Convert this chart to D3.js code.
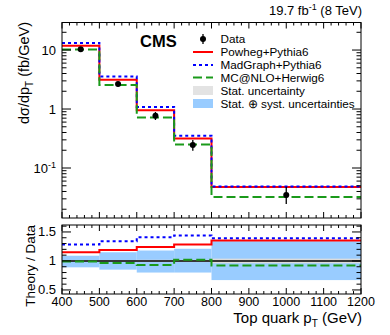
<!DOCTYPE html>
<html>
<head>
<meta charset="utf-8">
<script src="https://cdn.jsdelivr.net/npm/d3@7"></script>
<style>
  body { margin: 0; background: #fff; }
  svg { font-family: "Liberation Sans", Arial, sans-serif; }
</style>
</head>
<body>
<svg width="390" height="335"></svg>
<script>
// bin edges in GeV
const binEdges = [400, 500, 600, 700, 800, 1200];
// measured cross section (fb/GeV) and relative error on the data points
const dataVals = [10.3, 2.65, 0.77, 0.245, 0.035];
const dataErrUp = [0.05, 0.09, 0.16, 0.22, 0.37];
const dataErrDn = [0.05, 0.09, 0.15, 0.2, 0.3];
// theory predictions (fb/GeV)
const powheg = [11.85, 3.15, 0.955, 0.315, 0.0474];
const madgraph = [13.2, 3.55, 1.086, 0.353, 0.0487];
const mcatnlo = [10.2, 2.56, 0.716, 0.25, 0.0322];
// relative uncertainties for the ratio panel
const statUnc = [0.015, 0.015, 0.02, 0.02, 0.04];
const totUp = [0.09, 0.15, 0.18, 0.21, 0.34];
const totDn = [0.11, 0.15, 0.2, 0.2, 0.33];

const xTicks = [400, 500, 600, 700, 800, 900, 1000, 1100, 1200];
const ratioTicks = [0.5, 1, 1.5];
const yTickLabels = {0.1: "10", 1: "1", 10: "10"};

const svg = d3.select("svg");
const L = 62, R = 361;
const topT = 22.5, topB = 218;
const ratT = 225, ratB = 294;

const x = d3.scaleLinear().domain([400, 1200]).range([L, R]);
const y = d3.scaleLog().domain([0.0142, 29.3]).range([topB, topT]);
const yr = d3.scaleLinear().domain([0.43, 1.62]).range([ratB, ratT]);

const bins = dataVals.map((d, i) => ({lo: binEdges[i], hi: binEdges[i + 1], i: i}));

function stepPath(vals, ys) {
  let p = "";
  vals.forEach((v, i) => {
    const x0 = x(binEdges[i]), x1 = x(binEdges[i + 1]), yy = ys(v);
    p += (i === 0 ? "M" : "L") + x0 + "," + yy + "L" + x1 + "," + yy;
  });
  return p;
}

const models = [
  {name: "Powheg+Pythia6", vals: powheg, color: "#ff0000", dash: null},
  {name: "MadGraph+Pythia6", vals: madgraph, color: "#0000ff", dash: "3,3"},
  {name: "MC@NLO+Herwig6", vals: mcatnlo, color: "#1a9a1a", dash: "9,4"}
];

// ---------- top panel ----------
const gTop = svg.append("g");
gTop.append("defs").append("clipPath").attr("id", "clipTop")
  .append("rect").attr("x", L).attr("y", topT).attr("width", R - L).attr("height", topB - topT);

const plotTop = gTop.append("g").attr("clip-path", "url(#clipTop)");
models.forEach(m => {
  plotTop.append("path").attr("d", stepPath(m.vals, y))
    .attr("fill", "none").attr("stroke", m.color).attr("stroke-width", 2)
    .attr("stroke-dasharray", m.dash);
});

// data points
bins.forEach(b => {
  const cx = x((b.lo + b.hi) / 2), v = dataVals[b.i];
  plotTop.append("line").attr("x1", cx).attr("x2", cx)
    .attr("y1", y(v * (1 + dataErrUp[b.i]))).attr("y2", y(v * (1 - dataErrDn[b.i])))
    .attr("stroke", "#000").attr("stroke-width", 1.3);
  plotTop.append("circle").attr("cx", cx).attr("cy", y(v)).attr("r", 3).attr("fill", "#000");
});

// frame
gTop.append("rect").attr("x", L).attr("y", topT).attr("width", R - L).attr("height", topB - topT)
  .attr("fill", "none").attr("stroke", "#000").attr("stroke-width", 1);

// y ticks (log)
const logTicks = [];
for (let e = -2; e <= 1; e++) for (let k = 1; k <= 9; k++) {
  const v = k * Math.pow(10, e);
  if (v >= y.domain()[0] && v <= y.domain()[1]) logTicks.push({v: v, major: k === 1});
}
logTicks.forEach(t => {
  const len = t.major ? 9 : 4.5;
  [[L, L + len], [R, R - len]].forEach(s => {
    gTop.append("line").attr("x1", s[0]).attr("x2", s[1]).attr("y1", y(t.v)).attr("y2", y(t.v))
      .attr("stroke", "#000").attr("stroke-width", 1);
  });
  if (t.major) {
    const tx = gTop.append("text").attr("x", 56).attr("y", y(t.v) + 4.5)
      .attr("text-anchor", "end").attr("font-size", 13).text(yTickLabels[t.v]);
    if (t.v === 0.1) tx.append("tspan").attr("dy", -5).attr("font-size", 9).text("-1");
  }
});

// x ticks (top panel, both edges)
d3.range(400, 1201, 20).forEach(v => {
  const major = v % 100 === 0;
  const len = major ? 6 : 3;
  [[topB, topB - len], [topT, topT + len]].forEach(s => {
    gTop.append("line").attr("x1", x(v)).attr("x2", x(v)).attr("y1", s[0]).attr("y2", s[1])
      .attr("stroke", "#000").attr("stroke-width", 1);
  });
});

// y title
const yt = gTop.append("text").attr("transform", "translate(29,22) rotate(-90)")
  .attr("text-anchor", "end").attr("font-size", 14.5);
yt.append("tspan").text("dσ/dp");
yt.append("tspan").attr("font-size", 10).attr("dy", 4).text("T");
yt.append("tspan").attr("dy", -4).text(" (fb/GeV)");

// CMS label and lumi
svg.append("text").attr("x", 140).attr("y", 47).attr("font-size", 16.5).attr("font-weight", "bold").text("CMS");
const lumi = svg.append("text").attr("x", 362).attr("y", 15).attr("text-anchor", "end").attr("font-size", 13);
lumi.append("tspan").text("19.7 fb");
lumi.append("tspan").attr("dy", -5).attr("font-size", 9).text("-1");
lumi.append("tspan").attr("dy", 5).text(" (8 TeV)");

// legend
const legX0 = 193, legX1 = 213, legTx = 220.5;
const legY = [39, 52, 65, 77.5, 90.5, 103.5];
const lg = svg.append("g").attr("font-size", 11.7);
lg.append("line").attr("x1", 203).attr("x2", 203).attr("y1", legY[0] - 5).attr("y2", legY[0] + 5)
  .attr("stroke", "#000").attr("stroke-width", 1.3);
lg.append("circle").attr("cx", 203).attr("cy", legY[0]).attr("r", 3).attr("fill", "#000");
lg.append("text").attr("x", legTx).attr("y", legY[0] + 4.3).text("Data");
models.forEach((m, i) => {
  const yy = legY[i + 1];
  lg.append("line").attr("x1", legX0).attr("x2", legX1).attr("y1", yy).attr("y2", yy)
    .attr("stroke", m.color).attr("stroke-width", 2).attr("stroke-dasharray", m.dash);
  lg.append("text").attr("x", legTx).attr("y", yy + 4.3).text(m.name);
});
lg.append("rect").attr("x", legX0).attr("y", legY[4] - 4.5).attr("width", legX1 - legX0).attr("height", 9).attr("fill", "#e3e3e3");
lg.append("text").attr("x", legTx).attr("y", legY[4] + 4.3).text("Stat. uncertainty");
lg.append("rect").attr("x", legX0).attr("y", legY[5] - 4.5).attr("width", legX1 - legX0).attr("height", 9).attr("fill", "#99ccff");
lg.append("text").attr("x", legTx).attr("y", legY[5] + 4.3).text("Stat. ⊕ syst. uncertainties");

// ---------- ratio panel ----------
const gR = svg.append("g");
gR.append("defs").append("clipPath").attr("id", "clipR")
  .append("rect").attr("x", L).attr("y", ratT).attr("width", R - L).attr("height", ratB - ratT);
const plotR = gR.append("g").attr("clip-path", "url(#clipR)");

bins.forEach(b => {
  plotR.append("rect").attr("x", x(b.lo)).attr("width", x(b.hi) - x(b.lo))
    .attr("y", yr(1 + totUp[b.i])).attr("height", yr(1 - totDn[b.i]) - yr(1 + totUp[b.i]))
    .attr("fill", "#99ccff");
});
bins.forEach(b => {
  plotR.append("rect").attr("x", x(b.lo)).attr("width", x(b.hi) - x(b.lo))
    .attr("y", yr(1 + statUnc[b.i])).attr("height", yr(1 - statUnc[b.i]) - yr(1 + statUnc[b.i]))
    .attr("fill", "#dcdcdc");
});
plotR.append("line").attr("x1", L).attr("x2", R).attr("y1", yr(1)).attr("y2", yr(1))
  .attr("stroke", "#000").attr("stroke-width", 1.5);

models.forEach(m => {
  const ratio = m.vals.map((v, i) => v / dataVals[i]);
  plotR.append("path").attr("d", stepPath(ratio, yr))
    .attr("fill", "none").attr("stroke", m.color).attr("stroke-width", 2)
    .attr("stroke-dasharray", m.dash);
});

gR.append("rect").attr("x", L).attr("y", ratT).attr("width", R - L).attr("height", ratB - ratT)
  .attr("fill", "none").attr("stroke", "#000").attr("stroke-width", 1);

// ratio y ticks
d3.range(5, 17).map(k => k / 10).forEach(v => {
  const major = ratioTicks.includes(v);
  const len = major ? 9 : 4.5;
  [[L, L + len], [R, R - len]].forEach(s => {
    gR.append("line").attr("x1", s[0]).attr("x2", s[1]).attr("y1", yr(v)).attr("y2", yr(v))
      .attr("stroke", "#000").attr("stroke-width", 1);
  });
});
ratioTicks.forEach(v => {
  gR.append("text").attr("x", 56).attr("y", yr(v) + 4.5).attr("text-anchor", "end")
    .attr("font-size", 13).text(v);
});

// ratio x ticks
d3.range(400, 1201, 20).forEach(v => {
  const major = v % 100 === 0;
  const len = major ? 6 : 3;
  [[ratB, ratB - len], [ratT, ratT + len]].forEach(s => {
    gR.append("line").attr("x1", x(v)).attr("x2", x(v)).attr("y1", s[0]).attr("y2", s[1])
      .attr("stroke", "#000").attr("stroke-width", 1);
  });
});
xTicks.forEach(v => {
  gR.append("text").attr("x", x(v)).attr("y", 305.5).attr("text-anchor", "middle")
    .attr("font-size", 12.5).text(v);
});

const rt = gR.append("text").attr("transform", "translate(34.5,225) rotate(-90)")
  .attr("text-anchor", "end").attr("font-size", 13.5).text("Theory / Data");

const xt = svg.append("text").attr("x", 362).attr("y", 323).attr("text-anchor", "end").attr("font-size", 15);
xt.append("tspan").text("Top quark p");
xt.append("tspan").attr("font-size", 10).attr("dy", 4).text("T");
xt.append("tspan").attr("dy", -4).text(" (GeV)");
</script>
</body>
</html>
